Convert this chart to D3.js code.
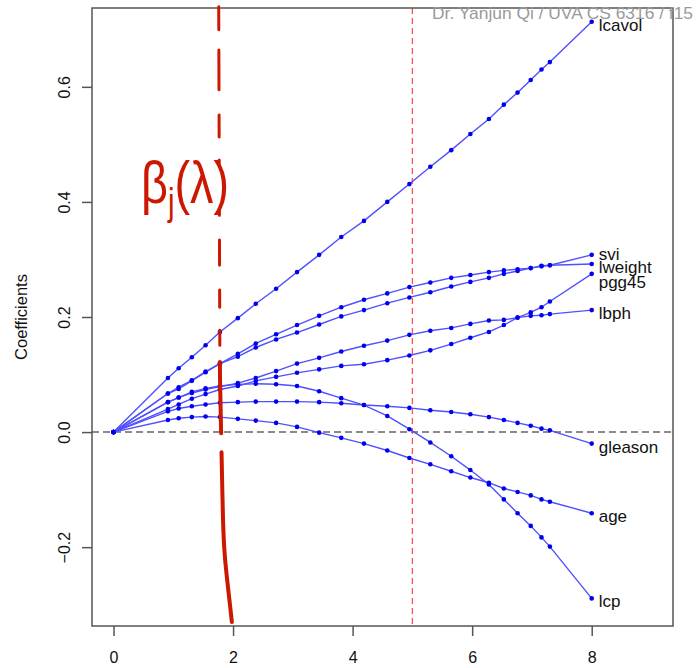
<!DOCTYPE html>
<html>
<head>
<meta charset="utf-8">
<script src="https://cdn.jsdelivr.net/npm/d3@7"></script>
<style>
  body { margin: 0; background: #fff; }
  text { font-family: "Liberation Sans", Arial, sans-serif; }
</style>
</head>
<body>
<script>
// degrees of freedom grid (x)
var dfs = [0, 0.91, 1.09, 1.31, 1.54, 1.78, 2.08, 2.38, 2.72, 3.07, 3.44, 3.81, 4.19, 4.58, 4.95, 5.30, 5.65, 5.97, 6.28, 6.53, 6.76, 6.98, 7.16, 7.30, 8.0];

// coefficient paths
var lcavol  = [0, 0.094, 0.111, 0.130, 0.151, 0.174, 0.198, 0.223, 0.249, 0.278, 0.308, 0.339, 0.367, 0.400, 0.431, 0.461, 0.490, 0.518, 0.544, 0.569, 0.590, 0.612, 0.630, 0.643, 0.713];
var lweight = [0, 0.067, 0.078, 0.090, 0.105, 0.119, 0.136, 0.154, 0.170, 0.186, 0.202, 0.217, 0.230, 0.241, 0.252, 0.260, 0.268, 0.273, 0.278, 0.281, 0.283, 0.285, 0.288, 0.290, 0.292];
var svi     = [0, 0.067, 0.075, 0.089, 0.104, 0.119, 0.131, 0.147, 0.161, 0.173, 0.187, 0.201, 0.212, 0.224, 0.234, 0.243, 0.253, 0.261, 0.268, 0.275, 0.280, 0.285, 0.289, 0.290, 0.308];
var pgg45   = [0, 0.040, 0.048, 0.058, 0.066, 0.074, 0.080, 0.089, 0.096, 0.103, 0.109, 0.115, 0.118, 0.125, 0.133, 0.142, 0.153, 0.164, 0.174, 0.186, 0.199, 0.208, 0.217, 0.227, 0.275];
var lbph    = [0, 0.052, 0.060, 0.068, 0.074, 0.079, 0.085, 0.094, 0.106, 0.119, 0.129, 0.140, 0.150, 0.159, 0.169, 0.176, 0.181, 0.188, 0.194, 0.195, 0.199, 0.202, 0.203, 0.205, 0.212];
var lcp     = [0, 0.052, 0.060, 0.070, 0.076, 0.080, 0.083, 0.084, 0.083, 0.080, 0.071, 0.059, 0.047, 0.028, 0.005, -0.018, -0.042, -0.066, -0.091, -0.117, -0.141, -0.163, -0.183, -0.199, -0.289];
var gleason = [0, 0.036, 0.041, 0.045, 0.048, 0.051, 0.052, 0.053, 0.053, 0.053, 0.052, 0.050, 0.047, 0.045, 0.042, 0.038, 0.035, 0.031, 0.026, 0.021, 0.016, 0.011, 0.006, 0.003, -0.020];
var age     = [0, 0.021, 0.024, 0.026, 0.027, 0.026, 0.023, 0.020, 0.016, 0.009, -0.001, -0.010, -0.020, -0.032, -0.045, -0.056, -0.068, -0.079, -0.088, -0.098, -0.104, -0.110, -0.117, -0.121, -0.141];

var names = ['lcavol', 'lweight', 'svi', 'pgg45', 'lbph', 'lcp', 'gleason', 'age'];
var paths = [lcavol, lweight, svi, pgg45, lbph, lcp, gleason, age];

var xTicks = [0, 2, 4, 6, 8];
var yTicks = [-0.2, 0, 0.2, 0.4, 0.6];
var chosenDf = 5;

var screen = {width: 700, height: 668};
var box = {left: 92, right: 673, top: 8, bottom: 626};

var svg = d3.select('body').append('svg')
    .attr('width', screen.width)
    .attr('height', screen.height)

var xScale = d3.scaleLinear()
    .domain([-0.36, 9.36])
    .range([box.left, box.right]);

var yScale = d3.scaleLinear()
    .domain([-0.337, 0.737])
    .range([box.bottom, box.top]);

// zero line
svg.append('line')
    .attr('x1', box.left).attr('x2', box.right)
    .attr('y1', yScale(0)).attr('y2', yScale(0))
    .attr('stroke', '#666')
    .attr('stroke-width', 1.5)
    .attr('stroke-dasharray', '7,4');

// chosen df line
svg.append('line')
    .attr('x1', xScale(chosenDf)).attr('x2', xScale(chosenDf))
    .attr('y1', box.top).attr('y2', box.bottom)
    .attr('stroke', '#ff5050')
    .attr('stroke-width', 1.3)
    .attr('stroke-dasharray', '6,4');

// paths
var line = d3.line()
    .x(function(d, i) { return xScale(dfs[i]) })
    .y(function(d) { return yScale(d) });

var series = svg.selectAll('.series')
    .data(paths)
    .enter()
    .append('g')
    .attr('class', 'series');

series.append('path')
    .attr('d', line)
    .attr('fill', 'none')
    .attr('stroke', '#5050ff')
    .attr('stroke-width', 1.4);

series.selectAll('circle')
    .data(function(d) { return d })
    .enter()
    .append('circle')
    .attr('cx', function(d, i) { return xScale(dfs[i]) })
    .attr('cy', function(d) { return yScale(d) })
    .attr('r', 2.3)
    .attr('fill', '#0000ee');

// labels at the right end
svg.selectAll('.lab')
    .data(names)
    .enter()
    .append('text')
    .attr('class', 'lab')
    .attr('x', xScale(dfs[dfs.length - 1]) + 7)
    .attr('y', function(d, i) {
      var v = paths[i][paths[i].length - 1];
      var nudge = 3;
      if (d == 'pgg45') nudge = 8;
      if (d == 'svi') nudge = -1;
      return yScale(v) + nudge;
    })
    .attr('dy', '0.35em')
    .attr('font-size', 17)
    .attr('fill', '#111')
    .text(function(d) { return d });

// box
svg.append('rect')
    .attr('x', box.left).attr('y', box.top)
    .attr('width', box.right - box.left)
    .attr('height', box.bottom - box.top)
    .attr('fill', 'none')
    .attr('stroke', '#555')
    .attr('stroke-width', 1.5);

// axes
var xAxis = d3.axisBottom(xScale)
    .tickValues(xTicks)
    .tickSize(10)
    .tickPadding(16)
    .tickFormat(d3.format('d'));
var gx = svg.append('g')
    .attr('transform', 'translate(0,' + box.bottom + ')')
    .call(xAxis);
gx.select('.domain').remove();
gx.selectAll('line').attr('stroke', '#555').attr('stroke-width', 1.5);
gx.selectAll('text').attr('font-size', 16).attr('fill', '#111').attr('font-family', '"Liberation Sans", Arial, sans-serif');

var yAxis = d3.axisLeft(yScale)
    .tickValues(yTicks)
    .tickSize(10)
    .tickFormat(d3.format('.1f'));
var gy = svg.append('g')
    .attr('transform', 'translate(' + box.left + ',0)')
    .call(yAxis);
gy.select('.domain').remove();
gy.selectAll('line').attr('stroke', '#555').attr('stroke-width', 1.5);
gy.selectAll('text')
    .attr('transform', 'rotate(-90)')
    .attr('x', 0)
    .attr('y', -22)
    .attr('dy', 0)
    .attr('text-anchor', 'middle')
    .attr('font-size', 16)
    .attr('fill', '#111')
    .attr('font-family', '"Liberation Sans", Arial, sans-serif');

svg.append('text')
    .attr('transform', 'translate(27,' + ((box.top + box.bottom) / 2) + ') rotate(-90)')
    .attr('text-anchor', 'middle')
    .attr('font-size', 16.5)
    .attr('fill', '#111')
    .text('Coefficients');

// hand drawn annotation
var redPieces = [
  [0.739, 0.699], [0.664, 0.595], [0.551, 0.513], [0.473, 0.462], [0.389, 0.377],
  [0.334, 0.290], [0.247, 0.217], [0.177, 0.151], [0.122, -0.002], [-0.035, -0.330]
];
var redX = d3.scaleLinear().domain([0.739, 0.1, -0.2, -0.330]).range([1.76, 1.78, 1.84, 1.98]);
var pen = d3.line()
    .x(function(d) { return xScale(redX(d)) })
    .y(function(d) { return yScale(d) })
    .curve(d3.curveBasis);
svg.selectAll('.pen')
    .data(redPieces)
    .enter()
    .append('path')
    .attr('class', 'pen')
    .attr('d', function(d) { return pen(d3.range(6).map(function(k) { return d[0] + (d[1] - d[0]) * k / 5 })) })
    .attr('fill', 'none')
    .attr('stroke', '#cc1800')
    .attr('stroke-width', function(d) { return d[1] < 0.1 ? 4 : 3 })
    .attr('stroke-linecap', 'round');

var hand = svg.append('text')
    .attr('transform', 'translate(141,203) scale(0.78,1)')
    .attr('fill', '#cc1800')
    .attr('font-family', '"Open Sans", "Noto Sans", sans-serif')
    .attr('font-weight', 300)
    .attr('font-size', 60);
hand.append('tspan').text('β');
hand.append('tspan').attr('font-size', 38).attr('dy', 12).text('j');
hand.append('tspan').attr('dy', -12).text('(λ)');

// watermark
svg.append('text')
    .attr('x', 432)
    .attr('y', 19)
    .attr('font-family', '"Open Sans", sans-serif')
    .attr('font-size', 17)
    .attr('textLength', 261)
    .attr('lengthAdjust', 'spacingAndGlyphs')
    .attr('fill', '#9a9a9a')
    .text('Dr. Yanjun Qi / UVA CS 6316 / f15');
</script>
</body>
</html>
